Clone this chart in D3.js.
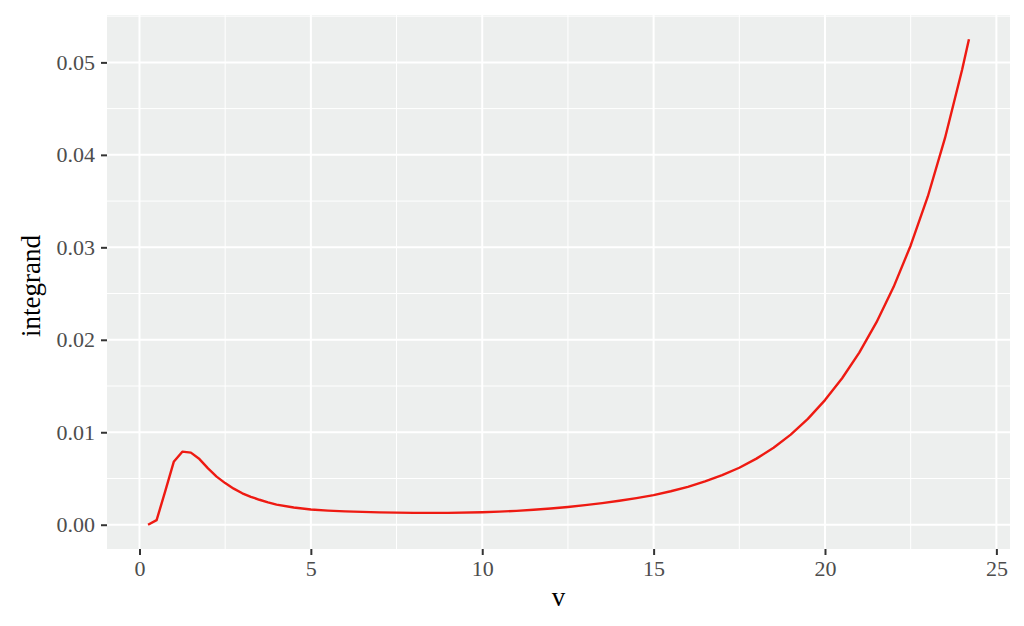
<!DOCTYPE html>
<html>
<head>
<meta charset="utf-8">
<script src="https://cdn.jsdelivr.net/npm/d3@7"></script>
<style>
  html, body { margin: 0; padding: 0; background: #ffffff; }
  svg { display: block; }
</style>
</head>
<body>
<svg id="chart" width="1024" height="626"></svg>
<script>
// ---- data ----
const vValues = [0.25, 0.5, 0.75, 1.0, 1.25, 1.5, 1.75, 2.0, 2.25, 2.5, 2.75, 3.0, 3.25, 3.5, 3.75, 4.0, 4.5, 5, 5.5, 6, 7, 8, 9, 10, 10.5, 11, 11.5, 12, 12.5, 13, 13.5, 14, 14.5, 15, 15.5, 16, 16.5, 17, 17.5, 18, 18.5, 19, 19.5, 20, 20.5, 21, 21.5, 22, 22.5, 23, 23.5, 24, 24.2];
const integrandValues = [0, 0.0005, 0.0036, 0.0068, 0.0079, 0.0078, 0.0071, 0.0061, 0.0052, 0.0045, 0.0039, 0.0034, 0.00302, 0.0027, 0.00242, 0.00218, 0.00186, 0.00164, 0.00152, 0.00144, 0.00134, 0.00128, 0.00128, 0.00135, 0.00142, 0.0015, 0.00162, 0.00175, 0.00192, 0.00212, 0.00234, 0.00259, 0.00288, 0.0032, 0.00362, 0.0041, 0.00468, 0.00536, 0.00616, 0.00715, 0.00833, 0.00974, 0.01145, 0.01348, 0.01584, 0.01862, 0.02188, 0.0257, 0.0302, 0.0355, 0.0418, 0.0492, 0.0525];
const xTicks = [0, 5, 10, 15, 20, 25];
const xMinorTicks = [2.5, 7.5, 12.5, 17.5, 22.5];
const yTicks = [0.00, 0.01, 0.02, 0.03, 0.04, 0.05];
const yMinorTicks = [0.005, 0.015, 0.025, 0.035, 0.045, 0.055];
const xTitle = "v";
const yTitle = "integrand";

// ---- layout ----
const W = 1024, H = 626;
const margin = { left: 107, top: 15, right: 14, bottom: 77 };
const pw = W - margin.left - margin.right;
const ph = H - margin.top - margin.bottom;

const data = vValues.map((v, i) => ({ v, y: integrandValues[i] }));

function expand(ext, m) {
  const r = ext[1] - ext[0];
  return [ext[0] - r * m, ext[1] + r * m];
}
const x = d3.scaleLinear().domain(expand(d3.extent(vValues), 0.05)).range([margin.left, margin.left + pw]);
const y = d3.scaleLinear().domain(expand(d3.extent(integrandValues), 0.05)).range([margin.top + ph, margin.top]);

const svg = d3.select("#chart");
const fontFam = "'Liberation Serif', 'DejaVu Serif', serif";

// panel background
svg.append("rect")
  .attr("x", margin.left).attr("y", margin.top)
  .attr("width", pw).attr("height", ph)
  .attr("fill", "#edefee");

const grid = svg.append("g");
// minor grid
grid.selectAll(".xminor").data(xMinorTicks).enter().append("line")
  .attr("x1", d => x(d)).attr("x2", d => x(d))
  .attr("y1", margin.top).attr("y2", margin.top + ph)
  .attr("stroke", "#ffffff").attr("stroke-width", 1);
grid.selectAll(".yminor").data(yMinorTicks.filter(d => d <= y.domain()[1])).enter().append("line")
  .attr("x1", margin.left).attr("x2", margin.left + pw)
  .attr("y1", d => y(d)).attr("y2", d => y(d))
  .attr("stroke", "#ffffff").attr("stroke-width", 1);
// major grid
grid.selectAll(".xmajor").data(xTicks).enter().append("line")
  .attr("x1", d => x(d)).attr("x2", d => x(d))
  .attr("y1", margin.top).attr("y2", margin.top + ph)
  .attr("stroke", "#ffffff").attr("stroke-width", 2);
grid.selectAll(".ymajor").data(yTicks).enter().append("line")
  .attr("x1", margin.left).attr("x2", margin.left + pw)
  .attr("y1", d => y(d)).attr("y2", d => y(d))
  .attr("stroke", "#ffffff").attr("stroke-width", 2);

// line
const line = d3.line().x(d => x(d.v)).y(d => y(d.y)).curve(d3.curveLinear);
svg.append("path")
  .datum(data)
  .attr("d", line)
  .attr("fill", "none")
  .attr("stroke", "#ee1a12")
  .attr("stroke-width", 2.4)
  .attr("stroke-linejoin", "round");

// axes
const xAxis = d3.axisBottom(x).tickValues(xTicks).tickFormat(d3.format("d")).tickSize(6).tickPadding(5);
const gx = svg.append("g").attr("transform", `translate(0,${margin.top + ph})`).call(xAxis);
gx.select(".domain").remove();
gx.selectAll(".tick line").attr("stroke", "#333333").attr("stroke-width", 2);
gx.selectAll(".tick text").attr("fill", "#4d4d4d").attr("font-family", fontFam).attr("font-size", "22px");

const yAxis = d3.axisLeft(y).tickValues(yTicks).tickFormat(d3.format(".2f")).tickSize(6).tickPadding(6);
const gy = svg.append("g").attr("transform", `translate(${margin.left},0)`).call(yAxis);
gy.select(".domain").remove();
gy.selectAll(".tick line").attr("stroke", "#333333").attr("stroke-width", 2);
gy.selectAll(".tick text").attr("fill", "#4d4d4d").attr("font-family", fontFam).attr("font-size", "22px");

// titles
svg.append("text")
  .attr("x", margin.left + pw / 2).attr("y", 606)
  .attr("text-anchor", "middle")
  .attr("font-family", fontFam).attr("font-size", "27px").attr("fill", "#000")
  .text(xTitle);
svg.append("text")
  .attr("transform", `translate(40,${margin.top + ph / 2 + 4}) rotate(-90)`)
  .attr("text-anchor", "middle")
  .attr("font-family", fontFam).attr("font-size", "27px").attr("fill", "#000")
  .text(yTitle);
</script>
</body>
</html>
